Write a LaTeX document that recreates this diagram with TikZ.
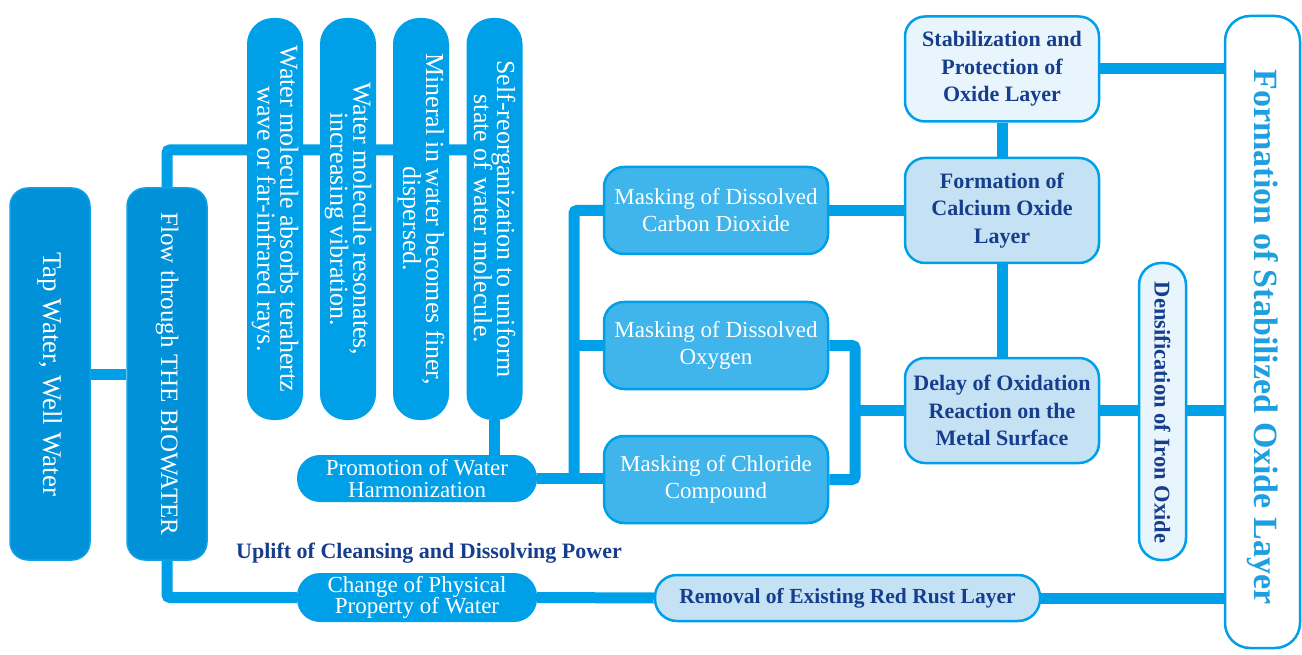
\documentclass[tikz,border=0pt]{standalone}
\usepackage{fontspec}
\setmainfont{Liberation Serif}
\usetikzlibrary{backgrounds}
\definecolor{lineblue}{RGB}{0,160,233}
\definecolor{tapblue}{RGB}{0,145,216}
\definecolor{tapborder}{RGB}{20,160,230}
\definecolor{maskfill}{RGB}{64,181,235}
\definecolor{lightfill}{RGB}{197,226,244}
\definecolor{palefill}{RGB}{232,245,252}
\definecolor{darktext}{RGB}{23,62,141}
\definecolor{formtext}{RGB}{30,159,224}
\newcommand\tightls{\lineskiplimit-30pt\relax}
\begin{document}
\begin{tikzpicture}[x=1pt,y=-1pt,
  conn/.style={draw=lineblue,line width=11pt,rounded corners=3pt},
  tapbox/.style={fill=tapblue,draw=tapborder,line width=1.5pt,rounded corners=18pt,inner sep=0pt,minimum width=80pt,minimum height=372pt},
  vbox/.style={fill=lineblue,draw=none,rounded corners=26pt,inner sep=0pt,minimum width=56pt,minimum height=402pt},
  wtext/.style={text=white,align=center,inner sep=0pt,font={\fontsize{26}{23}\selectfont\tightls}},
  pillbox/.style={fill=lineblue,draw=none,rounded corners=23pt,inner sep=0pt,minimum width=240pt,text=white,align=center,font={\fontsize{23}{21.5}\selectfont\tightls}},
  maskbox/.style={fill=maskfill,draw=lineblue,line width=2.5pt,rounded corners=20pt,minimum width=224pt,minimum height=87pt,inner sep=0pt,text=white,align=center,font={\fontsize{23}{27}\selectfont}},
  lbox/.style={fill=lightfill,draw=lineblue,line width=2.5pt,rounded corners=20pt,minimum width=194pt,minimum height=105pt,inner sep=0pt,text=darktext,align=center,font={\bfseries\fontsize{22}{27.5}\selectfont}},
  dtext/.style={text=darktext,inner sep=0pt,align=center,font={\bfseries\fontsize{22}{26}\selectfont}}]
\useasboundingbox (0,0) rectangle (1302,655);

% left column
\node[tapbox] (tap) at (50,374) {};
\node[wtext,rotate=-90,font={\fontsize{27}{23}\selectfont}] (taptext) at (tap) {Tap Water, Well Water};
\node[tapbox] (flow) at (167,374) {};
\node[wtext,rotate=-90,font={\fontsize{25}{23}\selectfont}] (flowtext) at (flow) {Flow through THE BIOWATER};

% vertical boxes
\node[vbox] (v1) at (275,219) {};
\node[wtext,rotate=-90] (v1t) at (v1) {Water molecule absorbs terahertz\\wave or far-infrared rays.};
\node[vbox] (v2) at (348,219) {};
\node[wtext,rotate=-90] (v2t) at (v2) {Water molecule resonates,\\increasing vibration.};
\node[vbox] (v3) at (421,219) {};
\node[wtext,rotate=-90] (v3t) at (v3) {Mineral in water becomes finer,\\dispersed.};
\node[vbox] (v4) at (494.5,219) {};
\node[wtext,rotate=-90] (v4t) at (v4) {Self-reorganization to uniform\\state of water molecule.};

% pills
\node[pillbox,minimum height=47pt] (promo) at (417,478.5) {Promotion of Water\\Harmonization};
\node[pillbox,minimum height=49pt] (change) at (417,597.5) {Change of Physical\\Property of Water};
\node[dtext,anchor=base] (uplift) at (429,558) {Uplift of Cleansing and Dissolving Power};

% masking boxes
\node[maskbox] (mCO2) at (716,210.5) {Masking of Dissolved\\Carbon Dioxide};
\node[maskbox] (mO2) at (716,345.5) {Masking of Dissolved\\Oxygen};
\node[maskbox] (mCl) at (716,479.5) {Masking of Chloride\\Compound};

% right boxes
\node[lbox,fill=palefill] (stab) at (1002,69) {Stabilization and\\Protection of\\Oxide Layer};
\node[lbox] (calc) at (1002,210.5) {Formation of\\Calcium Oxide\\Layer};
\node[lbox] (delay) at (1002,410.5) {Delay of Oxidation\\Reaction on the\\Metal Surface};

\node[fill=palefill,draw=lineblue,line width=2.5pt,rounded corners=22pt,minimum width=47pt,minimum height=297pt,inner sep=0pt] (dens) at (1162.5,411.5) {};
\node[dtext,rotate=-90,font={\bfseries\fontsize{22.5}{26}\selectfont}] (denstext) at (1162.5,412.5) {Densification of Iron Oxide};

\node[fill=lightfill,draw=lineblue,line width=2.5pt,rounded corners=22pt,minimum width=385pt,minimum height=46pt,inner sep=0pt,text=darktext,font={\bfseries\fontsize{21.5}{26}\selectfont}] (removal) at (847.5,598) {Removal of Existing Red Rust Layer};

\node[fill=white,draw=lineblue,line width=2.5pt,rounded corners=25pt,minimum width=75pt,minimum height=632pt,inner sep=0pt] (big) at (1262.5,332) {};
\node[rotate=-90,inner sep=0pt,text=formtext,font={\bfseries\fontsize{34}{36}\selectfont}] (bigtext) at (1262.5,337) {Formation of Stabilized Oxide Layer};

% connectors
\coordinate (topbar) at (494,150);
\coordinate (busA) at (574,478);
\coordinate (busB) at (855,410.5);
\begin{pgfonlayer}{background}
\draw[conn] (tap.east) -- (flow.west);
\draw[conn] (flow.north) |- (topbar);
\draw[conn] (v4.south) -- (v4.south |- promo.north);
\draw[conn] (promo.east) -- (promo.east -| mCl.west);
\draw[conn] (mCO2.west) -| (busA);
\draw[conn] (mO2.west) -- (mO2.west -| busA);
\draw[conn] (mO2.east) -| (busB |- mCl.east) -- (mCl.east);
\draw[conn] (busB) -- (delay.west);
\draw[conn] (mCO2.east) -- (calc.west);
\draw[conn] (stab.south) -- (calc.north);
\draw[conn] (calc.south) -- (delay.north);
\draw[conn] (stab.east) -- (stab.east -| big.west);
\draw[conn] (delay.east) -- (delay.east -| big.west);
\draw[conn] (flow.south) |- (change.west);
\draw[conn] (change.east) -- (removal.west);
\draw[conn] (removal.east) -- (removal.east -| big.west);
\end{pgfonlayer}
\end{tikzpicture}
\end{document}
